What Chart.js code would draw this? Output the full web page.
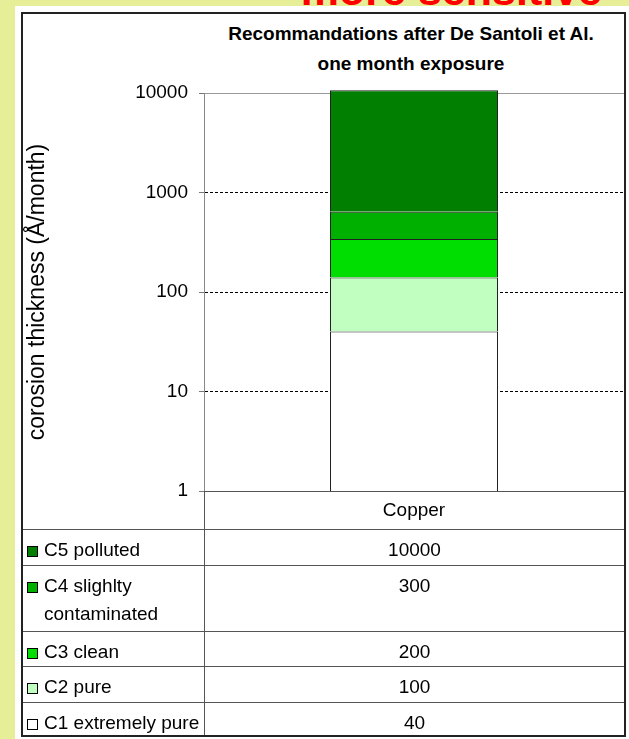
<!DOCTYPE html>
<html>
<head>
<meta charset="utf-8">
<script src="https://cdn.jsdelivr.net/npm/chart.js@4/dist/chart.umd.min.js"></script>
<style>
html,body{margin:0;padding:0;}
body{width:629px;height:739px;overflow:hidden;background:#E6EE98;position:relative;font-family:"Liberation Sans",Arial,sans-serif;}
#red{position:absolute;right:27px;top:-31px;font:bold 43px "Liberation Sans",Arial,sans-serif;color:#FF0000;line-height:43px;white-space:nowrap;z-index:5;}
#white{position:absolute;left:15px;top:6px;width:614px;height:733px;background:#fff;}
#frame{position:absolute;left:21px;top:12px;width:605px;height:725px;border:2px solid #222;box-sizing:border-box;}
#title{position:absolute;left:211px;top:19px;width:400px;text-align:center;font:bold 19px "Liberation Sans",Arial,sans-serif;line-height:30px;color:#000;}
#c{position:absolute;left:23px;top:14px;}
#table{position:absolute;left:23px;top:491px;width:601px;height:244px;overflow:hidden;font-size:19px;color:#000;}
.row{display:flex;border-top:1px solid #555;box-sizing:border-box;overflow:hidden;}
.row.head{border-top:none;height:38px;}
.lc{width:182px;box-sizing:border-box;border-right:1px solid #555;display:flex;align-items:flex-start;padding-top:6px;}
.head .lc{padding:0;}
.rc{flex:1;text-align:center;padding-top:6px;line-height:28px;}
.sw{flex:none;width:11px;height:11px;box-sizing:border-box;border:1px solid #000;margin:10px 6px 0 4px;}
.lt{line-height:28px;width:160px;}
</style>
</head>
<body>
<div id="red">more sensitive</div>
<div id="white"></div>
<div id="frame"></div>
<div id="title">Recommandations after De Santoli et Al.<br>one month exposure</div>
<canvas id="c" width="601" height="515" style="width:601px;height:515px"></canvas>
<div id="table"></div>
<script>
// ---- data ----
const categories = ['Copper'];
const seriesLabels = ['C1 extremely pure', 'C2 pure', 'C3 clean', 'C4 slighlty contaminated', 'C5 polluted'];
const c1Values = [40];
const c2Values = [100];
const c3Values = [200];
const c4Values = [300];
const c5Values = [10000];
const yTickValues = [1, 10, 100, 1000, 10000];
const yTitle = 'corosion thickness (Å/month)';

// ---- styles / layout ----
const seriesValues = [c1Values, c2Values, c3Values, c4Values, c5Values];
const seriesColors = ['#FFFFFF', '#C0FFC0', '#00DD00', '#00B000', '#007F00'];
const tableRowHeights = [34, 36, 35, 66, 36]; // C1..C5 row heights in px

const datasets = seriesLabels.map((lab, i) => ({
  label: lab,
  data: seriesValues[i],
  backgroundColor: seriesColors[i],
  borderColor: '#222',
  borderWidth: {top: 1, left: 1, right: 1, bottom: 0},
  borderSkipped: false,
  categoryPercentage: 1,
  barPercentage: 0.4,
  clip: false
}));

Chart.defaults.font.family = '"Liberation Sans", Arial, sans-serif';
Chart.defaults.font.size = 19;
Chart.defaults.color = '#000';

new Chart(document.getElementById('c'), {
  type: 'bar',
  data: {labels: categories, datasets: datasets},
  options: {
    responsive: false,
    devicePixelRatio: 1,
    animation: false,
    layout: {padding: {top: 79, left: 0, right: 0, bottom: 0}},
    plugins: {legend: {display: false}, title: {display: false}, tooltip: {enabled: false}},
    scales: {
      x: {
        stacked: true,
        grid: {display: false, drawTicks: false},
        border: {display: true, color: '#555', width: 1},
        ticks: {padding: 8, color: '#000', maxRotation: 0},
        afterFit: s => { s.height = 38; }
      },
      y: {
        type: 'logarithmic',
        stacked: true,
        min: 1,
        max: 10000,
        afterBuildTicks: s => { s.ticks = yTickValues.map(v => ({value: v})); },
        afterFit: s => { s.width = 181; },
        ticks: {callback: v => String(v), padding: 11, color: '#000', autoSkip: false},
        grid: {
          color: ctx => (ctx.tick && ctx.tick.value === 10000) ? '#999' : (ctx.tick && ctx.tick.value === 1) ? 'rgba(0,0,0,0)' : '#000',
          tickColor: '#777',
          tickLength: 5,
          tickBorderDash: [],
          lineWidth: 1
        },
        border: {
          display: true, color: '#888', width: 1,
          dash: ctx => (ctx.tick && ctx.tick.value === 10000) ? [] : [3, 2]
        },
        title: {display: true, text: yTitle, font: {size: 23}, color: '#000', padding: {top: 1, bottom: 0}}
      }
    }
  }
});

// ---- data table below the chart ----
const table = document.getElementById('table');
const head = document.createElement('div');
head.className = 'row head';
head.innerHTML = '<div class="lc"></div><div class="rc"></div>';
table.appendChild(head);
for (let i = seriesLabels.length - 1; i >= 0; i--) {
  const row = document.createElement('div');
  row.className = 'row';
  row.style.height = tableRowHeights[i] + 'px';
  const lc = document.createElement('div'); lc.className = 'lc';
  const sw = document.createElement('div'); sw.className = 'sw'; sw.style.background = seriesColors[i];
  const lt = document.createElement('div'); lt.className = 'lt'; lt.textContent = seriesLabels[i];
  lc.appendChild(sw); lc.appendChild(lt);
  const rc = document.createElement('div'); rc.className = 'rc';
  rc.textContent = String(seriesValues[i][0]);
  row.appendChild(lc); row.appendChild(rc);
  table.appendChild(row);
}
</script>
</body>
</html>
